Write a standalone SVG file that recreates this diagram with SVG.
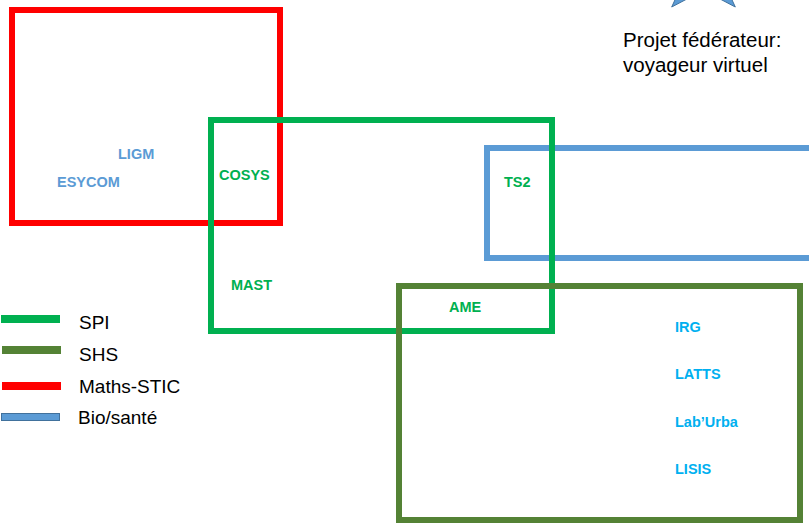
<svg xmlns="http://www.w3.org/2000/svg" width="809" height="525" viewBox="0 0 809 525">
  <style>
    .area { fill: none; stroke-width: 6; }
    .maths { stroke: #FF0000; }
    .spi { stroke: #00B050; }
    .bio { stroke: #5B9BD5; }
    .shs { stroke: #548235; }
    .lab { font-family: "Liberation Sans", Arial, sans-serif; font-weight: bold; font-size: 14.5px; }
    .c-bio { fill: #5B9BD5; }
    .c-spi { fill: #00B050; }
    .c-shs { fill: #00B0F0; }
    .legend { font-family: "Liberation Sans", Arial, sans-serif; font-size: 19px; fill: #000; }
    .title { font-family: "Liberation Sans", Arial, sans-serif; font-size: 20.5px; fill: #000; }
  </style>
  <rect width="809" height="525" fill="#FFFFFF"/>

  <g id="area-maths-stic">
    <rect class="area maths" x="12" y="10" width="268" height="213"/>
  </g>
  <g id="area-bio-sante">
    <rect class="area bio" x="487" y="148" width="330" height="110"/>
  </g>
  <g id="area-spi">
    <rect class="area spi" x="211" y="120" width="341" height="211"/>
  </g>
  <g id="area-shs">
    <rect class="area shs" x="399" y="286" width="401" height="234"/>
  </g>

  <g id="node-ligm"><text class="lab c-bio" x="118" y="159">LIGM</text></g>
  <g id="node-esycom"><text class="lab c-bio" x="57" y="187">ESYCOM</text></g>
  <g id="node-cosys"><text class="lab c-spi" x="219" y="180">COSYS</text></g>
  <g id="node-ts2"><text class="lab c-spi" x="504" y="187">TS2</text></g>
  <g id="node-mast"><text class="lab c-spi" x="231" y="290">MAST</text></g>
  <g id="node-ame"><text class="lab c-spi" x="449" y="312">AME</text></g>
  <g id="node-irg"><text class="lab c-shs" x="675" y="331.5">IRG</text></g>
  <g id="node-latts"><text class="lab c-shs" x="675" y="379">LATTS</text></g>
  <g id="node-laburba"><text class="lab c-shs" x="675" y="426.5">Lab’Urba</text></g>
  <g id="node-lisis"><text class="lab c-shs" x="675" y="474">LISIS</text></g>

  <g id="projet-federateur">
    <polygon points="703.5,-81 711.4,-45 735.3,7 703.5,-9.7 671.7,7 695.6,-45" fill="#5B9BD5" stroke="#41719C" stroke-width="1"/>
    <text class="title" x="623" y="47">Projet fédérateur:</text>
    <text class="title" x="623" y="72">voyageur virtuel</text>
  </g>

  <g id="legend">
    <rect x="1" y="315" width="59" height="8" fill="#00B050"/>
    <text class="legend" x="79" y="329">SPI</text>
    <rect x="2" y="346" width="59" height="8" fill="#548235"/>
    <text class="legend" x="79" y="361">SHS</text>
    <rect x="2" y="382" width="59" height="8" fill="#FF0000"/>
    <text class="legend" x="79" y="393">Maths-STIC</text>
    <rect x="1.5" y="413.5" width="58" height="7" fill="#5B9BD5" stroke="#41719C" stroke-width="1"/>
    <text class="legend" x="78" y="424">Bio/santé</text>
  </g>

  <g id="connectors"></g>
</svg>
